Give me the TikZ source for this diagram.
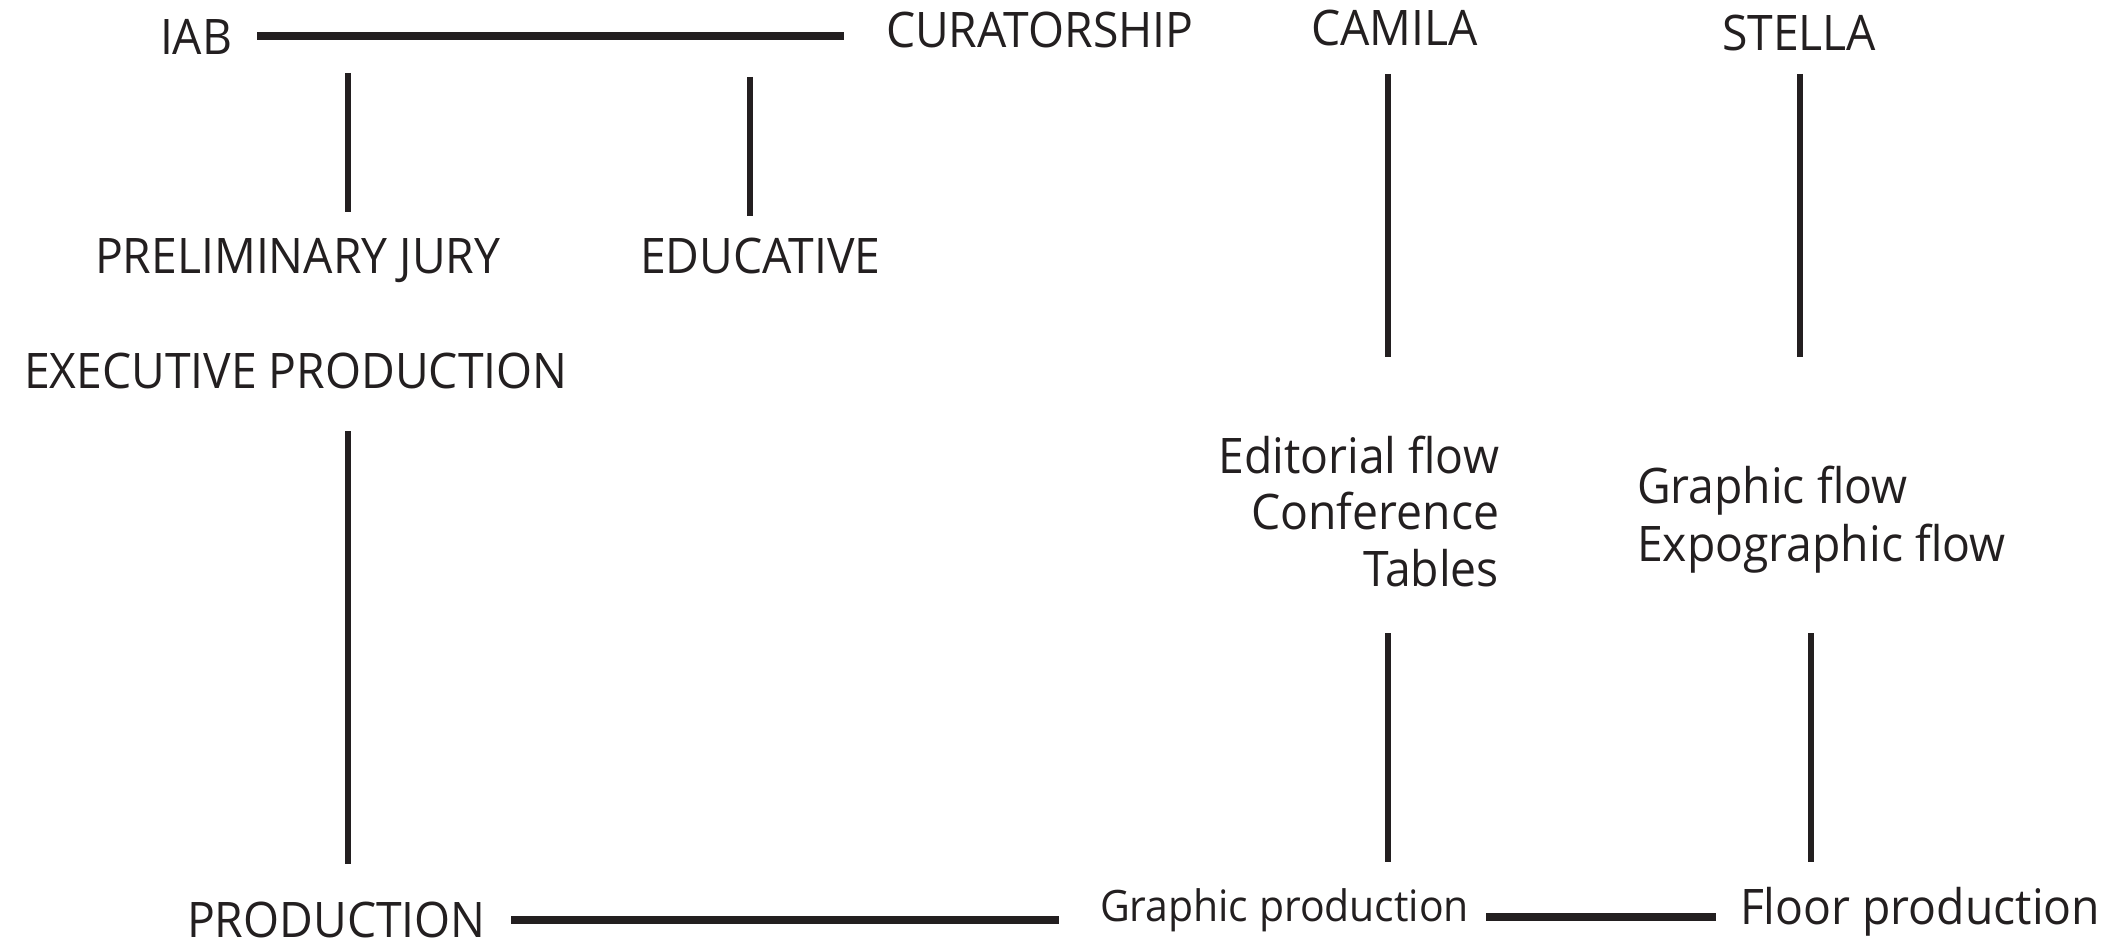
\documentclass[tikz,border=0pt]{standalone}
\usepackage{fontspec}
\setmainfont[FakeStretch=0.945]{Open Sans}
\definecolor{ink}{HTML}{231F20}
\begin{document}
\begin{tikzpicture}[x=1pt,y=-1pt,
  lbl/.style={inner sep=0pt,outer sep=0pt,text=ink,font=\fontsize{49}{56}\selectfont},
  small/.style={lbl,font=\fontsize{43.3}{48}\selectfont},
  hbar/.style={draw=ink,line width=8.5pt},
  vbar/.style={draw=ink,line width=6pt}]
\useasboundingbox (0,0) rectangle (2113,947);
% labels
\node[lbl,anchor=base west] (iab) at (160,55) {IAB};
\node[lbl,anchor=base west] (cur) at (886,48) {CURATORSHIP};
\node[lbl,anchor=base west] (cam) at (1311,46) {CAMILA};
\node[lbl,anchor=base west] (ste) at (1722,51) {STELLA};
\node[lbl,anchor=base west] (jury) at (95,273) {PRELIMINARY JURY};
\node[lbl,anchor=base west] (edu) at (640,273) {EDUCATIVE};
\node[lbl,anchor=base west] (exe) at (24,388) {EXECUTIVE PRODUCTION};
\node[lbl,anchor=base east] (ed1) at (1499,473) {Editorial flow};
\node[lbl,anchor=base east] (ed2) at (1499,529) {Conference};
\node[lbl,anchor=base east] (ed3) at (1499,586) {Tables};
\node[lbl,anchor=base west] (gf1) at (1637,503) {Graphic flow};
\node[lbl,anchor=base west] (gf2) at (1637,561) {Expographic flow};
\node[lbl,anchor=base west] (prod) at (187,937) {PRODUCTION};
\node[small,anchor=base west] (gprod) at (1100,921) {Graphic production};
\node[lbl,anchor=base west] (fprod) at (1740,924) {Floor production};
% connector ends
\coordinate (t1) at (257,36);   \coordinate (t2) at (844,36);
\coordinate (a1) at (348,73);   \coordinate (a2) at (348,212);
\coordinate (b1) at (750,77);   \coordinate (b2) at (750,216);
\coordinate (c1) at (348,431);  \coordinate (c2) at (348,864);
\coordinate (d1) at (1388,74);  \coordinate (d2) at (1388,357);
\coordinate (e1) at (1800,74);  \coordinate (e2) at (1800,357);
\coordinate (f1) at (1388,633); \coordinate (f2) at (1388,862);
\coordinate (g1) at (1811,633); \coordinate (g2) at (1811,862);
\coordinate (h1) at (511,920);  \coordinate (h2) at (1059,920);
\coordinate (k1) at (1486,917); \coordinate (k2) at (1716,917);
% connectors
\draw[hbar] (t1) -- (t2);
\draw[vbar] (a1) -- (a2);
\draw[vbar] (b1) -- (b2);
\draw[vbar] (c1) -- (c2);
\draw[vbar] (d1) -- (d2);
\draw[vbar] (e1) -- (e2);
\draw[vbar] (f1) -- (f2);
\draw[vbar] (g1) -- (g2);
\draw[hbar] (h1) -- (h2);
\draw[hbar] (k1) -- (k2);
\end{tikzpicture}
\end{document}
